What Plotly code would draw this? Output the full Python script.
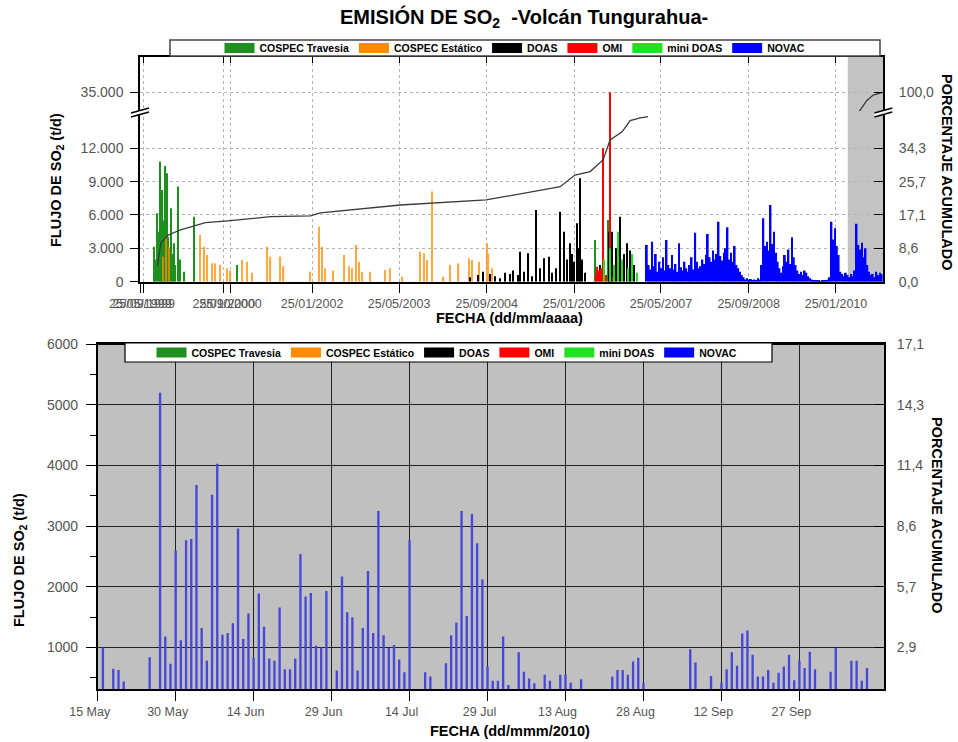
import plotly.graph_objects as go
import pandas as pd

# ---------------- DATA ----------------
series_names = ["COSPEC Travesia", "COSPEC Estático", "DOAS", "OMI", "mini DOAS", "NOVAC"]
series_colors = ["#1f8f1f", "#ff8c00", "#000000", "#ff0000", "#22e022", "#0000ff"]

travesia_dates = ["1999-08-26", "1999-09-05", "1999-09-14", "1999-09-22", "1999-09-29", "1999-10-07",
                  "1999-10-14", "1999-10-22", "1999-10-30", "1999-11-07", "1999-11-13", "1999-11-20",
                  "1999-12-01", "1999-12-10", "1999-12-18", "1999-12-25", "2000-01-09", "2000-01-20",
                  "2000-02-13", "2000-04-05", "2000-12-03", "2006-05-23", "2006-08-05"]
travesia_vals = [3150, 2000, 6150, 4500, 10800, 7000, 8250, 5500, 10400, 9750, 4000, 3000,
                 6600, 2500, 3450, 1500, 8550, 2000, 900, 5850, 1500, 3750, 5550]

estatico_dates = ["1999-10-19", "1999-11-05", "1999-11-18", "2000-05-09", "2000-05-31", "2000-06-19",
                  "2000-07-17", "2000-08-04", "2000-09-01", "2000-10-08", "2000-10-27", "2000-12-31",
                  "2001-01-28", "2001-02-26", "2001-05-19", "2001-06-07", "2001-07-31", "2001-08-19",
                  "2002-01-16", "2002-03-03", "2002-03-22", "2002-04-09", "2002-05-24", "2002-07-20",
                  "2002-08-17", "2002-09-05", "2002-09-29", "2002-10-12", "2002-10-31", "2002-12-16",
                  "2003-03-10", "2003-04-06", "2003-06-11", "2003-09-17", "2003-10-09", "2003-10-28",
                  "2003-11-25", "2004-01-28", "2004-03-06", "2004-04-21", "2004-06-16", "2004-07-05",
                  "2004-08-11", "2004-09-26", "2004-10-05", "2004-10-26"]
estatico_vals = [2250, 4050, 3150, 4200, 3150, 2400, 1650, 1650, 1500, 1200, 1000, 1950,
                 1800, 800, 3150, 2250, 2250, 1400, 900, 4950, 3150, 1200, 1000, 2400,
                 1400, 1200, 3300, 1800, 900, 900, 1050, 1200, 450, 2700, 2550, 1950,
                 8100, 450, 1500, 1650, 2100, 1950, 1800, 3450, 2550, 1200]

doas_dates = ["2004-06-25", "2004-08-09", "2004-09-06", "2004-10-15", "2004-11-12", "2004-12-09",
              "2005-01-06", "2005-02-03", "2005-02-20", "2005-03-20", "2005-03-31", "2005-04-22",
              "2005-05-16", "2005-06-06", "2005-06-28", "2005-07-20", "2005-08-12", "2005-09-05",
              "2005-09-25", "2005-10-18", "2005-11-09", "2005-12-01", "2005-12-18", "2006-01-04",
              "2006-01-15", "2006-01-26", "2006-02-10", "2006-02-20", "2006-02-28", "2006-03-11",
              "2006-03-28", "2006-06-20", "2006-08-10", "2006-08-26", "2006-09-17", "2006-10-09",
              "2006-10-31", "2006-11-15", "2006-12-04", "2006-12-26"]
doas_vals = [400, 600, 900, 700, 500, 300, 800, 700, 1000, 600, 2700, 900,
             2550, 500, 6450, 1200, 2100, 2250, 800, 1200, 6300, 4500, 2000, 3450,
             2500, 1800, 5250, 3000, 9300, 2000, 800, 1500, 4500, 4500, 3000, 5850,
             2500, 3450, 2800, 1500]

omi_dates = ["2006-05-25", "2006-06-05", "2006-06-15", "2006-06-25", "2006-07-08", "2006-07-20",
             "2006-08-12", "2006-09-01"]
omi_vals = [700, 1350, 1000, 1200, 12000, 600, 35000, 400]

minidoas_dates = ["2006-07-10", "2006-08-15", "2006-09-05", "2006-09-25", "2006-10-20", "2006-11-20",
                  "2006-12-15", "2007-01-10"]
minidoas_vals = [2000, 3000, 1500, 4500, 2000, 1200, 2500, 800]

# NOVAC 2007-2010: one reading every 10 days starting 2007-03-07
novac_start = "2007-03-07"
novac_step = "10D"
novac_vals = [3300, 1500, 1100, 3600, 1400, 2500, 900, 1800, 1200, 2200,
              1000, 3750, 1500, 1200, 2400, 1100, 1600, 900, 3450, 1300,
              1000, 1800, 1200, 900, 1500, 2200, 1100, 4400, 1800, 1200,
              1400, 2000, 1600, 2400, 4300, 2200, 1800, 2800, 2000, 2500,
              5400, 2300, 1900, 2600, 3000, 4900, 2000, 2600, 1800, 3200,
              1500, 1200, 900, 600, 400, 200, 300, 150, 250, 100,
              200, 150, 300, 200, 1500, 5700, 3200, 3600, 2800, 6900,
              3400, 4500, 2600, 1800, 1200, 800, 1400, 2400, 1800, 2900,
              1600, 4000, 2200, 1500, 1000, 700, 900, 600, 1000, 800,
              500, 300, 200, 100, 150, 80, 120, 60, 100, 150,
              80, 200, 400, 5400, 3800, 4800, 3200, 2400, 900, 700,
              500, 800, 600, 400, 700, 500, 1000, 5200, 3300, 2900,
              3500, 2200, 3000, 1500, 900, 600, 700, 400, 900, 600,
              800, 700]
novac_dates = list(pd.date_range(novac_start, periods=len(novac_vals), freq=novac_step))

# cumulative percentage
cum_dates = ["1999-09-15", "1999-10-05", "1999-11-15", "2000-01-22", "2000-06-09", "2000-10-27",
             "2001-06-07", "2002-01-16", "2002-03-12", "2003-06-01", "2004-09-22", "2005-11-09",
             "2006-01-30", "2006-04-25", "2006-07-06", "2006-08-14", "2006-10-20", "2006-12-04",
             "2007-01-29", "2007-03-14", "2008-10-01", "2010-06-04", "2010-07-15", "2010-08-21",
             "2010-10-07"]
cum_pct = [4.0, 10.0, 12.0, 13.3, 15.2, 15.7, 16.7, 16.9, 17.7, 19.7, 21.0, 24.4,
           27.4, 28.3, 31.3, 36.4, 38.5, 41.4, 42.1, 42.4, None, 94.5, 97.6, 99.2, 99.9]

# 2010 NOVAC daily flux (bottom chart)
novac2010_dates = ["2010-05-16", "2010-05-18", "2010-05-19", "2010-05-20", "2010-05-25", "2010-05-27",
                   "2010-05-28", "2010-05-29", "2010-05-30", "2010-05-31", "2010-06-01", "2010-06-02",
                   "2010-06-03", "2010-06-04", "2010-06-05", "2010-06-06", "2010-06-07", "2010-06-08",
                   "2010-06-09", "2010-06-10", "2010-06-11", "2010-06-12", "2010-06-13", "2010-06-14",
                   "2010-06-15", "2010-06-16", "2010-06-17", "2010-06-18", "2010-06-19", "2010-06-20",
                   "2010-06-21", "2010-06-22", "2010-06-23", "2010-06-24", "2010-06-25", "2010-06-26",
                   "2010-06-27", "2010-06-28", "2010-06-30", "2010-07-01", "2010-07-02", "2010-07-03",
                   "2010-07-04", "2010-07-05", "2010-07-06", "2010-07-07", "2010-07-08", "2010-07-09",
                   "2010-07-10", "2010-07-11", "2010-07-12", "2010-07-13", "2010-07-14", "2010-07-17",
                   "2010-07-18", "2010-07-21", "2010-07-22", "2010-07-23", "2010-07-24", "2010-07-25",
                   "2010-07-26", "2010-07-27", "2010-07-28", "2010-07-29", "2010-07-30", "2010-07-31",
                   "2010-08-01", "2010-08-02", "2010-08-04", "2010-08-05", "2010-08-06", "2010-08-07",
                   "2010-08-09", "2010-08-10", "2010-08-12", "2010-08-13", "2010-08-14", "2010-08-16",
                   "2010-08-22", "2010-08-23", "2010-08-24", "2010-08-25", "2010-08-26", "2010-08-27",
                   "2010-08-28", "2010-09-06", "2010-09-07", "2010-09-10", "2010-09-12", "2010-09-13",
                   "2010-09-14", "2010-09-15", "2010-09-16", "2010-09-17", "2010-09-18", "2010-09-19",
                   "2010-09-20", "2010-09-21", "2010-09-22", "2010-09-23", "2010-09-24", "2010-09-25",
                   "2010-09-26", "2010-09-27", "2010-09-28", "2010-09-29", "2010-09-30", "2010-10-03",
                   "2010-10-04", "2010-10-07", "2010-10-08", "2010-10-09", "2010-10-10"]
novac2010_vals = [1000, 650, 630, 440, 840, 5200,
                  1180, 730, 2600, 1120, 2770, 2790,
                  3680, 1320, 780, 3520, 4030, 1210,
                  1240, 1400, 2960, 1140, 1560, 830,
                  1890, 1340, 820, 780, 1660, 640,
                  640, 820, 2540, 1840, 1900, 1030,
                  1000, 1930, 620, 2170, 1580, 1500,
                  620, 1320, 2260, 1240, 3250, 1200,
                  990, 1040, 800, 590, 2770, 590,
                  520, 740, 1200, 1410, 3250, 1520,
                  3200, 2720, 2120, 690, 450, 450,
                  1180, 380, 920, 600, 490, 410,
                  550, 450, 550, 550, 420, 475,
                  520, 630, 630, 550, 770, 830,
                  420, 970, 750, 530, 420, 640,
                  920, 700, 1230, 1280, 880, 520,
                  520, 630, 420, 585, 685, 880,
                  460, 780, 660, 930, 640, 600,
                  990, 780, 780, 450, 660]

# axis ticks
top_x_ticks = ["1999-06-12", "1999-06-30", "2000-09-19", "2000-10-27", "2002-01-25", "2003-05-25",
               "2004-09-25", "2006-01-25", "2007-05-25", "2008-09-25", "2010-01-25"]
top_x_labels = ["25/05/1999", "25/09/1999", "25/09/2000", "25/10/2000", "25/01/2002", "25/05/2003",
                "25/09/2004", "25/01/2006", "25/05/2007", "25/09/2008", "25/01/2010"]
flux_ticks_low = [0, 3000, 6000, 9000, 12000]
flux_labels_low = ["0", "3.000", "6.000", "9.000", "12.000"]
flux_ticks_high = [35000]
flux_labels_high = ["35.000"]
pct_labels_low = ["0,0", "8,6", "17,1", "25,7", "34,3"]
pct_labels_high = ["100,0"]
total_flux = 35000.0  # flux that corresponds to 100 %

bot_x_ticks = ["2010-05-15", "2010-05-30", "2010-06-14", "2010-06-29", "2010-07-14", "2010-07-29",
               "2010-08-13", "2010-08-28", "2010-09-12", "2010-09-27"]
bot_x_labels = ["15 May", "30 May", "14 Jun", "29 Jun", "14 Jul", "29 Jul", "13 Aug", "28 Aug",
                "12 Sep", "27 Sep"]
bot_y_ticks = [1000, 2000, 3000, 4000, 5000, 6000]
bot_y_labels = ["1000", "2000", "3000", "4000", "5000", "6000"]
bot_pct_labels = ["2,9", "5,7", "8,6", "11,4", "14,3", "17,1"]

# ---------------- LAYOUT HELPERS ----------------
W, H = 958, 742
def fx(p):
    return p / W
def fy(p):
    return 1 - p / H

DAY = 86400000
FONT = "Liberation Sans, Arial, sans-serif"
TICKCOL = "#555555"

top_x_range = ["1999-06-10", "2010-10-16"]
low_range = [0, 15350]
high_range = [33130, 38530]
bot_x_range = ["2010-05-15", "2010-10-13 08:00"]
bot_y_range = [310, 6000]

fig = go.Figure()

series_data = [
    (travesia_dates, travesia_vals, 7),
    (estatico_dates, estatico_vals, 7),
    (doas_dates, doas_vals, 6),
    (omi_dates, omi_vals, 6),
    (minidoas_dates, minidoas_vals, 6),
    (novac_dates, novac_vals, 10),
]
opac = [1.0, 0.75, 1.0, 1.0, 1.0, 1.0]

for xa, ya in [("x", "y"), ("x2", "y3")]:
    for (d, v, wd), name, col, op in zip(series_data, series_names, series_colors, opac):
        fig.add_trace(go.Bar(x=d, y=v, width=wd * DAY, marker=dict(color=col, line=dict(width=0)),
                             opacity=op, name=name, showlegend=False, xaxis=xa, yaxis=ya))

for xa, ya in [("x", "y2"), ("x2", "y4")]:
    fig.add_trace(go.Scatter(x=cum_dates, y=cum_pct, mode="lines", line=dict(color="#3a3a3a", width=1.3),
                             showlegend=False, connectgaps=False, xaxis=xa, yaxis=ya))

fig.add_trace(go.Bar(x=novac2010_dates, y=novac2010_vals, width=0.45 * DAY,
                     marker=dict(color="#4747d9", line=dict(width=0)), showlegend=False,
                     xaxis="x3", yaxis="y5"))
# empty trace so the right-hand percentage axis of the bottom chart is drawn
fig.add_trace(go.Scatter(x=[None], y=[None], mode="lines", showlegend=False, hoverinfo="skip",
                         xaxis="x3", yaxis="y6"))

# legend entries
for lg in ["legend", "legend2"]:
    for name, col in zip(series_names, series_colors):
        fig.add_trace(go.Scatter(x=[None], y=[None], mode="lines", line=dict(color=col, width=10),
                                 name=name, legend=lg, xaxis="x", yaxis="y"))

tickfont_x = dict(family=FONT, size=12.5, color=TICKCOL)
tickfont_y = dict(family=FONT, size=14, color=TICKCOL)

top_dom_x = [fx(140), fx(883.3)]
common = dict(automargin=False, zeroline=False)
fig.update_layout(
    width=W, height=H, margin=dict(l=0, r=0, t=0, b=0, pad=0, autoexpand=False),
    paper_bgcolor="white", plot_bgcolor="white",
    barmode="overlay", font=dict(family=FONT),
    xaxis=dict(domain=top_dom_x, anchor="y", type="date", range=top_x_range,
               tickmode="array", tickvals=top_x_ticks, ticktext=top_x_labels, tickangle=0,
               tickfont=tickfont_x, ticks="outside", ticklen=10, tickcolor="black",
               showline=True, linecolor="black", linewidth=1.5,
               showgrid=True, gridcolor="#b5b5b5", griddash="dot", gridwidth=1, **common),
    xaxis2=dict(domain=top_dom_x, anchor="y3", matches="x", type="date", side="top",
                tickmode="array", tickvals=top_x_ticks, showticklabels=False,
                ticks="inside", ticklen=6, tickcolor="black",
                showline=True, linecolor="black", linewidth=1.5,
                showgrid=True, gridcolor="#b5b5b5", griddash="dot", gridwidth=1, **common),
    yaxis=dict(domain=[fy(281.7), fy(111)], anchor="x", range=low_range,
               tickmode="array", tickvals=flux_ticks_low, ticktext=flux_labels_low,
               tickfont=tickfont_y, ticks="outside", ticklen=8, tickcolor="black", ticklabelstandoff=4,
               showline=True, linecolor="black", linewidth=1.5,
               showgrid=True, gridcolor="#b5b5b5", griddash="dot", **common),
    yaxis2=dict(overlaying="y", side="right", anchor="x", range=[r * 100 / total_flux for r in low_range],
                tickmode="array", tickvals=[t * 100 / total_flux for t in flux_ticks_low],
                ticktext=pct_labels_low, tickfont=tickfont_y, ticks="inside", ticklen=10,
                tickcolor="black", ticklabelstandoff=11,
                showline=True, linecolor="black", linewidth=1.5, showgrid=False, **common),
    yaxis3=dict(domain=[fy(111), fy(57)], anchor="x2", range=high_range,
                tickmode="array", tickvals=flux_ticks_high, ticktext=flux_labels_high,
                tickfont=tickfont_y, ticks="outside", ticklen=8, tickcolor="black", ticklabelstandoff=4,
                showline=True, linecolor="black", linewidth=1.5,
                showgrid=True, gridcolor="#b5b5b5", griddash="dot", **common),
    yaxis4=dict(overlaying="y3", side="right", anchor="x2", range=[r * 100 / total_flux for r in high_range],
                tickmode="array", tickvals=[t * 100 / total_flux for t in flux_ticks_high],
                ticktext=pct_labels_high, tickfont=tickfont_y, ticks="inside", ticklen=10,
                tickcolor="black", ticklabelstandoff=11,
                showline=True, linecolor="black", linewidth=1.5, showgrid=False, **common),
    xaxis3=dict(domain=[fx(97.7), fx(884.3)], anchor="y5", type="date", range=bot_x_range,
                tickmode="array", tickvals=bot_x_ticks, ticktext=bot_x_labels, tickangle=0,
                tickfont=tickfont_x, ticks="outside", ticklen=10, tickcolor="black", ticklabelshift=-8,
                showline=True, mirror=True, linecolor="black", linewidth=1.5,
                showgrid=True, gridcolor="#222222", gridwidth=1, **common),
    yaxis5=dict(domain=[fy(689.3), fy(344.3)], anchor="x3", range=bot_y_range,
                tickmode="array", tickvals=bot_y_ticks, ticktext=bot_y_labels,
                tickfont=tickfont_y, ticks="outside", ticklen=10, tickcolor="black", ticklabelstandoff=5,
                minor=dict(tickmode="linear", tick0=500, dtick=1000, ticks="outside", ticklen=6,
                           tickcolor="black", showgrid=False),
                showline=True, linecolor="black", linewidth=1.5,
                showgrid=True, gridcolor="#222222", gridwidth=1, **common),
    yaxis6=dict(overlaying="y5", side="right", anchor="x3", range=[r * 100 / total_flux for r in bot_y_range],
                tickmode="array", tickvals=[t * 100 / total_flux for t in bot_y_ticks],
                ticktext=bot_pct_labels, tickfont=tickfont_y, ticks="inside", ticklen=10,
                tickcolor="black", ticklabelstandoff=8,
                showline=True, linecolor="black", linewidth=1.5, showgrid=False, **common),
    legend=dict(orientation="h", x=fx(515), xanchor="center", y=fy(48), yanchor="middle",
                bgcolor="rgba(0,0,0,0)", borderwidth=0, itemwidth=30,
                font=dict(family=FONT, size=10.5, color="black", weight="bold"), tracegroupgap=0),
    legend2=dict(orientation="h", x=fx(447), xanchor="center", y=fy(352.5), yanchor="middle",
                 bgcolor="rgba(0,0,0,0)", borderwidth=0, itemwidth=30,
                 font=dict(family=FONT, size=10.5, color="black", weight="bold"), tracegroupgap=0),
)

shapes = []
# grey highlight of the zoomed period in the top chart
for yr in ["y domain", "y3 domain"]:
    shapes.append(dict(type="rect", xref="x", yref=yr, x0="2010-04-01", x1=top_x_range[1], y0=0, y1=1,
                       fillcolor="#c3c3c3", line=dict(width=0), layer="below"))
# grey background of the bottom chart
shapes.append(dict(type="rect", xref="x3 domain", yref="y5 domain", x0=0, x1=1, y0=0, y1=1,
                   fillcolor="#c0c0c0", line=dict(width=0), layer="below"))
# top frame line of the bottom chart
shapes.append(dict(type="line", xref="x3 domain", yref="y5 domain", x0=0, x1=1, y0=1, y1=1,
                   line=dict(color="black", width=1.5), layer="above"))
# legend boxes
shapes.append(dict(type="rect", xref="paper", yref="paper", x0=fx(170), x1=fx(880), y0=fy(56), y1=fy(40),
                   fillcolor="white", line=dict(color="#444444", width=1.5), layer="above"))
shapes.append(dict(type="rect", xref="paper", yref="paper", x0=fx(125), x1=fx(772), y0=fy(362), y1=fy(343),
                   fillcolor="white", line=dict(color="black", width=1.2), layer="above"))
# axis break marks
for ax in [140, 883.3]:
    x0, x1 = ax - 9, ax + 9
    path = "M {:.5f},{:.5f} L {:.5f},{:.5f} L {:.5f},{:.5f} L {:.5f},{:.5f} Z".format(
        fx(x0), fy(113), fx(x1), fy(108), fx(x1), fy(112), fx(x0), fy(117))
    shapes.append(dict(type="path", xref="paper", yref="paper", path=path, fillcolor="white",
                       line=dict(width=0), layer="above"))
    for yy in [0, 4]:
        shapes.append(dict(type="line", xref="paper", yref="paper", x0=fx(x0), y0=fy(113 + yy),
                           x1=fx(x1), y1=fy(108 + yy), line=dict(color="black", width=1.5), layer="above"))
fig.update_layout(shapes=shapes)

tfont = dict(family=FONT, size=14.5, color="black", weight="bold")
annotations = [
    dict(text="EMISIÓN DE SO<sub>2</sub>  -Volcán Tungurahua-", x=fx(524), y=fy(18),
         font=dict(family=FONT, size=20, color="black", weight="bold")),
    dict(text="FLUJO DE SO<sub>2</sub> (t/d)", x=fx(57), y=fy(180), textangle=-90, font=tfont),
    dict(text="PORCENTAJE ACUMULADO", x=fx(947), y=fy(172), textangle=90, font=tfont),
    dict(text="FECHA (dd/mm/aaaa)", x=fx(510), y=fy(318), font=tfont),
    dict(text="FLUJO DE SO<sub>2</sub> (t/d)", x=fx(20), y=fy(560), textangle=-90, font=tfont),
    dict(text="PORCENTAJE ACUMULADO", x=fx(937), y=fy(515), textangle=90, font=tfont),
    dict(text="FECHA (dd/mmm/2010)", x=fx(510), y=fy(731), font=tfont),
]
for a in annotations:
    a.update(xref="paper", yref="paper", showarrow=False, xanchor="center", yanchor="middle")
fig.update_layout(annotations=annotations)

fig.write_html("out.html")
